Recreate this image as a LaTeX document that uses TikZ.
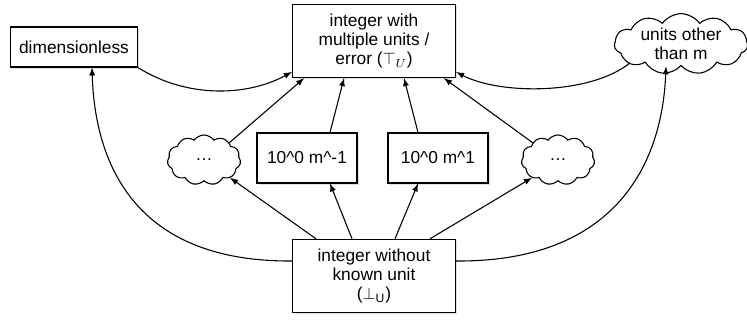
\documentclass[tikz,border=0pt]{standalone}
\usepackage{amsmath}
\usepackage{amssymb}
\usepackage{fontspec}
\setmainfont{Liberation Sans}
\usetikzlibrary{calc, arrows, shapes.symbols, shadows}

\begin{document}
\begin{tikzpicture}[x=0.6pt,y=-0.6pt,>=latex,line width=0.65pt,
  box/.style={draw,fill=white,align=center,inner sep=2pt,
    drop shadow={opacity=0.25,shadow xshift=1pt,shadow yshift=-1pt}},
  puff/.style={draw,fill=white,cloud,cloud puffs=11,cloud puff arc=110,align=center,inner sep=0pt},
  every node/.style={font=\fontsize{10.4}{11.6}\selectfont}]
\useasboundingbox (0,0) rectangle (747,322);
\draw node [box,minimum width=76pt,minimum height=24pt] (dim) at (74,47) {dimensionless};
\draw node [box,minimum width=98pt,minimum height=44pt] (top) at (374,41) {integer with\\multiple units /\\error ($\top_U$)};
\draw node [puff,aspect=2.5,minimum width=80pt,minimum height=32pt] (other) at (681,44) {units other\\than m};
\draw node [puff,aspect=1.5,minimum width=44pt,minimum height=30pt] (cl) at (204,160) {\dots};
\draw node [box,minimum width=60pt,minimum height=30pt] (neg) at (307,158) {10\^{}0 m\^{}-1};
\draw node [box,minimum width=60pt,minimum height=30pt] (pos) at (438,158) {10\^{}0 m\^{}1};
\draw node [puff,aspect=1.5,minimum width=44pt,minimum height=30pt] (cr) at (558,160) {\dots};
\draw node [box,minimum width=98pt,minimum height=44pt] (bot) at (374,276) {integer without\\known unit\\($\perp_{\mathrm{U}}$)};
% from the bottom element
\draw[->] ($(bot.north)+(-58,0)$) -- (cl.south east);
\draw[->] ($(bot.north)+(-22,0)$) -- ($(neg.south)+(23,0)$);
\draw[->] ($(bot.north)+(21,0)$) -- ($(pos.south)+(-20,0)$);
\draw[->] ($(bot.north)+(56,0)$) -- (cr.south west);
\draw[->] ($(bot.west)+(0,-15)$) .. controls (140,262) and (95,170) .. ($(dim.south)+(18,0)$);
\draw[->] ($(bot.east)+(0,-15)$) .. controls (610,262) and (662,170) .. ($(other.south)+(-15,0)$);
% to the top element
\draw[->] (cl.north east) -- ($(top.south)+(-70,0)$);
\draw[->] ($(neg.north)+(23,0)$) -- ($(top.south)+(-30,0)$);
\draw[->] ($(pos.north)+(-20,0)$) -- ($(top.south)+(30,0)$);
\draw[->] (cr.north west) -- ($(top.south)+(70,0)$);
\draw[->] (dim.south east) .. controls (190,100) and (250,95) .. ($(top.west)+(0,31)$);
\draw[->] ($(other.west)+(16,19)$) .. controls (590,95) and (500,95) .. ($(top.east)+(0,31)$);
\end{tikzpicture}
\end{document}
